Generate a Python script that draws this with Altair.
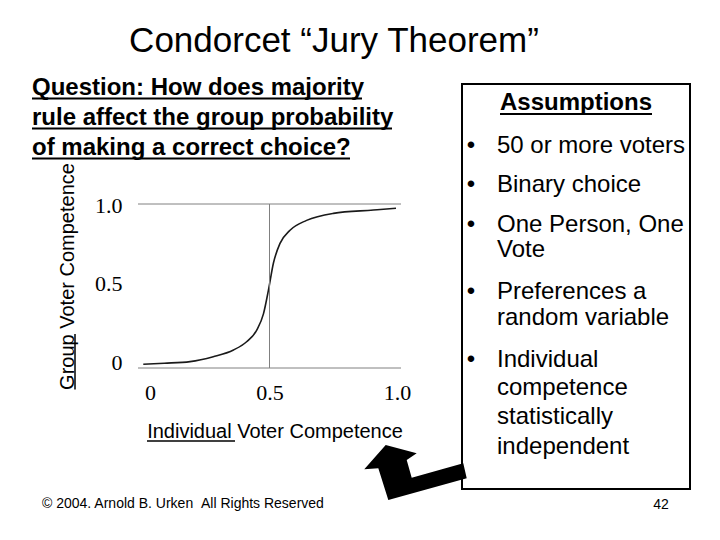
import altair as alt
import pandas as pd

# ---- data ----
ind_comp = [0.02, 0.10, 0.198, 0.286, 0.363, 0.413, 0.451, 0.477, 0.496, 0.515, 0.54, 0.578, 0.641, 0.743, 0.895, 0.981]
grp_comp = [0.023, 0.029, 0.039, 0.069, 0.11, 0.16, 0.23, 0.33, 0.475, 0.64, 0.76, 0.84, 0.90, 0.943, 0.963, 0.974]
ref_levels = [0, 1]
mid_value = [0.5]
tick_values = [0, 0.5, 1]

slide_title = "Condorcet \u201cJury Theorem\u201d"
question_lines = ["Question: How does majority",
                  "rule affect the group probability",
                  "of making a correct choice?"]
box_heading = "Assumptions"
assumption_items = [["50 or more voters"],
                    ["Binary choice"],
                    ["One Person, One", "Vote"],
                    ["Preferences a", "random variable"],
                    ["Individual", "competence", "statistically", "independent"]]
x_title = "Individual Voter Competence"
y_title = "Group Voter Competence"
footer = "\u00a9 2004. Arnold B. Urken\u00a0\u00a0All Rights Reserved"
page_no = "42"

# ---- layout (screen pixels; plot origin at screen 138,204) ----
OX, OY = 138, 204
SANS = "Liberation Sans"
SERIF = "Liberation Serif"
one = pd.DataFrame({"k": [0]})


def txt(s, x, y, size, weight="normal", align="left", font=SANS):
    return alt.Chart(one).mark_text(
        text=s, font=font, fontSize=size, fontWeight=weight, align=align,
        baseline="alphabetic", color="black"
    ).encode(x=alt.value(x - OX), y=alt.value(y - OY))


def uline(x1, x2, y1, y2, w=2):
    return alt.Chart(one).mark_rule(color="black", strokeWidth=w).encode(
        x=alt.value(x1 - OX), x2=alt.value(x2 - OX),
        y=alt.value(y1 - OY), y2=alt.value(y2 - OY))


xscale = alt.Scale(domain=[0, 1], nice=False, zero=False)
yscale = alt.Scale(domain=[0, 1], nice=False, zero=False)
lab_expr = "datum.value == 0 ? '0' : datum.value == 1 ? '1.0' : '0.5'"

curve_df = pd.DataFrame({"ind": ind_comp, "grp": grp_comp})
curve = alt.Chart(curve_df).mark_line(
    interpolate="monotone", color="#1a1a1a", strokeWidth=1.6
).encode(
    x=alt.X("ind:Q", scale=xscale, axis=alt.Axis(
        values=tick_values, labelExpr=lab_expr, domain=False, ticks=False, grid=False,
        labelFont=SERIF, labelFontSize=22, labelColor="black",
        labelBaseline="middle", labelPadding=24, labelFlush=False, labelOverlap=False,
        labelOffset={"condition": [{"test": "datum.value == 0", "value": 12},
                                   {"test": "datum.value == 1", "value": -4}], "value": 0},
        title=x_title, titleFont=SANS, titleFontSize=20, titleFontWeight="normal",
        titleColor="black", titleX=274.5 - OX, titleY=437 - 368,
        titleAlign="center", titleBaseline="alphabetic")),
    y=alt.Y("grp:Q", scale=yscale, axis=alt.Axis(
        values=tick_values, labelExpr=lab_expr, domain=False, ticks=False, grid=False,
        labelFont=SERIF, labelFontSize=22, labelColor="black",
        labelAlign="right", labelBaseline="middle", labelPadding=16,
        labelFlush=False, labelOverlap=False,
        labelOffset={"condition": [{"test": "datum.value == 0", "value": -6},
                                   {"test": "datum.value == 0.5", "value": -3}], "value": 1},
        title=y_title, titleFont=SANS, titleFontSize=20, titleFontWeight="normal",
        titleColor="black", titleAngle=270, titleX=73 - OX, titleY=276 - OY,
        titleAlign="center", titleBaseline="alphabetic")),
)

hlines = alt.Chart(pd.DataFrame({"g": ref_levels, "a": [0, 0], "b": [1, 1]})).mark_rule(
    color="#808080", strokeWidth=1
).encode(
    y=alt.Y("g:Q", scale=yscale),
    x=alt.X("a:Q", scale=xscale), x2="b:Q")

vline = alt.Chart(pd.DataFrame({"m": mid_value, "a": [0], "b": [1]})).mark_rule(
    color="#808080", strokeWidth=1
).encode(
    x=alt.X("m:Q", scale=xscale),
    y=alt.Y("a:Q", scale=yscale), y2="b:Q")

layers = [curve, hlines, vline]

# slide title
layers.append(txt(slide_title, 334, 52, 35, align="center"))

# question
q_base = [95, 125, 155]
q_ends = [362, 392, 350]
for line, yb, xe in zip(question_lines, q_base, q_ends):
    layers.append(txt(line, 32, yb, 24, weight="bold"))
    layers.append(uline(32, xe, yb + 3.5, yb + 3.5))

# underlines for axis titles
layers.append(uline(147, 235, 441, 441, w=1.5))
layers.append(uline(75, 75, 334, 389.5, w=1.5))

# assumptions box
layers.append(alt.Chart(one).mark_rect(fillOpacity=0, stroke="black", strokeWidth=2).encode(
    x=alt.value(462 - OX), x2=alt.value(690 - OX), y=alt.value(84 - OY), y2=alt.value(489 - OY)))
layers.append(txt(box_heading, 576, 110, 24, weight="bold", align="center"))
layers.append(uline(500, 652, 114, 114))

item_base = [[152.5], [191.5], [231.5, 256.5], [298.5, 324.5], [366.5, 394.5, 423.5, 453.5]]
for item, bases in zip(assumption_items, item_base):
    layers.append(txt("\u2022", 471, bases[0], 24, align="center"))
    for line, yb in zip(item, bases):
        layers.append(txt(line, 497, yb, 24))

# bent arrow
pts = [(385.7, 445), (416.7, 453.3), (406.7, 460), (411.7, 477.7), (463.3, 463.3),
       (466.7, 478.3), (388.3, 500), (378.3, 468.3), (364.3, 469.3)]
cx, cy, half = 415.5, 472.5, 52.0
path = "M " + " L ".join(f"{(px - cx) / half:.3f},{(py - cy) / half:.3f}" for px, py in pts) + " Z"
layers.append(alt.Chart(one).mark_point(
    shape=path, filled=True, size=(2 * half) ** 2, color="black", opacity=1, strokeWidth=0
).encode(x=alt.value(cx - OX), y=alt.value(cy - OY)))

# footer and page number
layers.append(txt(footer, 42, 508, 14))
layers.append(txt(page_no, 661, 509, 14, align="center"))

chart = alt.layer(*layers).properties(
    width=263, height=164,
    padding={"left": 130, "top": 196, "right": 311, "bottom": 164},
    autosize=alt.AutoSizeParams(type="none"),
    background="white",
).configure_view(stroke=None)

chart.save("out.html", embed_options={"renderer": "svg", "actions": False})
